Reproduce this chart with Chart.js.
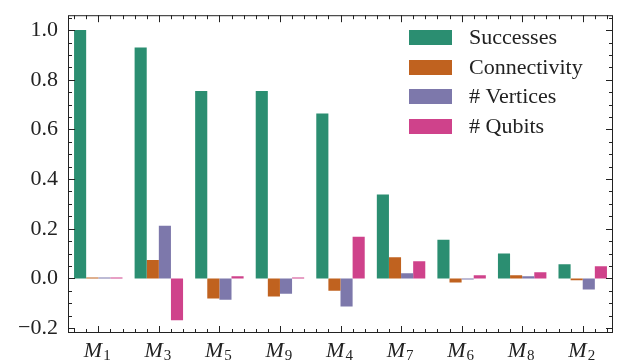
<!DOCTYPE html>
<html>
<head>
<meta charset="utf-8">
<script src="https://cdn.jsdelivr.net/npm/chart.js@4.4.0/dist/chart.umd.min.js"></script>
<style>
  html, body { margin: 0; padding: 0; background: #fff; }
  canvas { display: block; }
</style>
</head>
<body>
<canvas id="chart" width="620" height="362"></canvas>
<script>
// --- data ---
const modelIds = ['1', '3', '5', '9', '4', '7', '6', '8', '2'];
const successes    = [1.000, 0.930, 0.755, 0.755, 0.664, 0.338, 0.156, 0.100, 0.057];
const connectivity = [0.004, 0.074, -0.081, -0.073, -0.050, 0.085, -0.017, 0.013, -0.008];
const vertices     = [0.004, 0.212, -0.086, -0.062, -0.113, 0.021, -0.005, 0.009, -0.045];
const qubits       = [0.004, -0.169, 0.009, 0.004, 0.168, 0.069, 0.013, 0.025, 0.049];
const yTicks = [-0.2, 0.0, 0.2, 0.4, 0.6, 0.8, 1.0];

const SERIF = '"Liberation Serif", "DejaVu Serif", serif';
const INK = '#222';

// frame, inward ticks, subscript labels and legend (matplotlib look)
const decor = {
    id: 'decor',
    afterDraw(chart) {
        const { ctx, chartArea: a, scales: { x, y } } = chart;
        ctx.save();
        ctx.strokeStyle = INK;
        ctx.lineWidth = 1;

        // ticks on all four sides
        const tick = (x1, y1, x2, y2) => {
            ctx.beginPath(); ctx.moveTo(x1, y1); ctx.lineTo(x2, y2); ctx.stroke();
        };
        for (let k = -4; k <= 21; k++) {
            const v = k * 0.05;
            const py = Math.round(y.getPixelForValue(v)) + 0.5;
            const len = k % 4 === 0 ? 7 : 4;
            tick(a.left, py, a.left + len, py);
            tick(a.right, py, a.right - len, py);
        }
        for (let k = -2; k <= 42; k++) {
            const v = k * 0.2;
            const px = Math.round(x.getPixelForValue(v)) + 0.5;
            const len = k % 5 === 0 ? 7 : 4;
            tick(px, a.bottom, px, a.bottom - len);
            tick(px, a.top, px, a.top + len);
        }
        ctx.strokeRect(a.left + 0.5, a.top + 0.5, a.right - a.left - 1, a.bottom - a.top - 1);

        // x labels: italic M with subscript index
        ctx.fillStyle = INK;
        ctx.textBaseline = 'alphabetic';
        ctx.textAlign = 'left';
        modelIds.forEach((id, i) => {
            const cx = x.getPixelForValue(i);
            ctx.font = 'italic 22px ' + SERIF;
            const wM = ctx.measureText('M').width;
            ctx.font = '15px ' + SERIF;
            const wS = ctx.measureText(id).width;
            const x0 = cx - (wM + wS + 1) / 2 - 1;
            ctx.font = 'italic 22px ' + SERIF;
            ctx.fillText('M', x0, 357);
            ctx.font = '15px ' + SERIF;
            ctx.fillText(id, x0 + wM + 1, 360);
        });

        // legend
        ctx.font = '22px ' + SERIF;
        ctx.textBaseline = 'middle';
        chart.data.datasets.forEach((ds, i) => {
            const cy = 37.5 + i * 29.6;
            ctx.fillStyle = ds.backgroundColor;
            ctx.fillRect(409, Math.round(cy - 7.5), 43, 15);
            ctx.fillStyle = INK;
            ctx.fillText(ds.label, 469, cy + 1);
        });
        ctx.restore();
    }
};

new Chart(document.getElementById('chart'), {
    type: 'bar',
    data: {
        labels: modelIds.map(id => 'M' + id),
        datasets: [
            { label: 'Successes',    data: successes,    backgroundColor: '#2b8e71' },
            { label: 'Connectivity', data: connectivity, backgroundColor: '#c0621f' },
            { label: '# Vertices',   data: vertices,     backgroundColor: '#7d78ab' },
            { label: '# Qubits',     data: qubits,       backgroundColor: '#cf428b' }
        ]
    },
    options: {
        responsive: false,
        devicePixelRatio: 1,
        animation: false,
        layout: { padding: { top: 10, right: 7, left: 0, bottom: 0 } },
        datasets: { bar: { categoryPercentage: 0.8, barPercentage: 1.0, borderWidth: 0 } },
        plugins: { legend: { display: false }, tooltip: { enabled: false } },
        scales: {
            x: {
                offset: true,
                grid: { display: false },
                border: { display: false },
                ticks: { display: false },
                afterFit: s => { s.height = 29; }
            },
            y: {
                min: -0.22,
                max: 1.06,
                grid: { display: false },
                border: { display: false },
                afterBuildTicks: s => { s.ticks = yTicks.map(v => ({ value: v })); },
                ticks: {
                    color: INK,
                    padding: 2,
                    font: { family: SERIF, size: 22 },
                    callback: v => (v < 0 ? '\u2212' : '') + Math.abs(v).toFixed(1)
                },
                afterFit: s => { s.width = 68; }
            }
        }
    },
    plugins: [decor]
});
</script>
</body>
</html>
